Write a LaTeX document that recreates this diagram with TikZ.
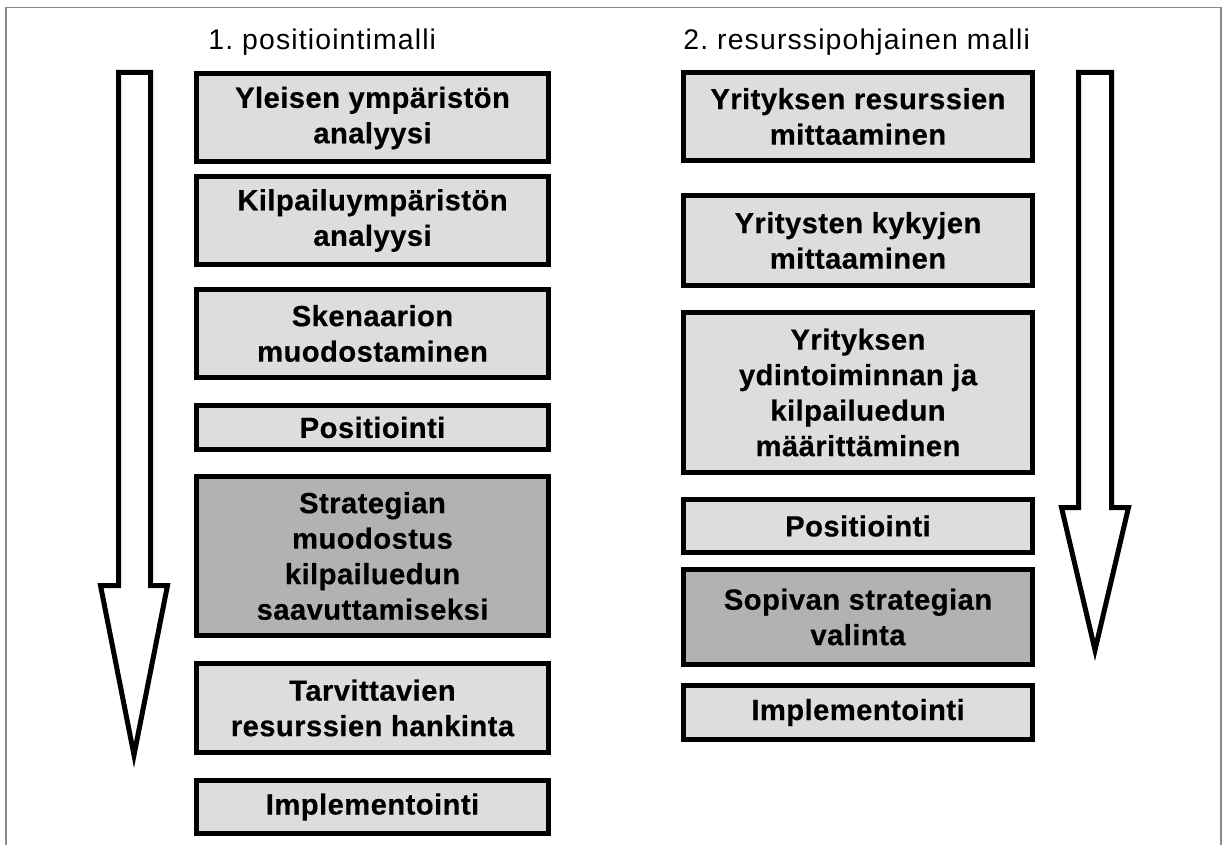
\documentclass[tikz,border=0pt]{standalone}
\usepackage{fontspec}
\setmainfont{Liberation Sans}[LetterSpace=1.5, BoldFeatures={FakeBold=0.4}]
\newfontfamily\headingfont{Liberation Sans}[LetterSpace=4]
\definecolor{boxlight}{HTML}{DDDDDD}
\definecolor{boxdark}{HTML}{B2B2B2}
\definecolor{framegray}{HTML}{8A8A8A}
\frenchspacing
\begin{document}
\begin{tikzpicture}[x=0.5pt,y=-0.5pt,
  stepbox/.style={draw=black, line width=2.5pt, fill=boxlight, inner sep=0pt,
    align=center, font=\bfseries\fontsize{14.6}{17.75}\selectfont},
  darkbox/.style={stepbox, fill=boxdark},
  bigarrow/.style={draw=black, line width=2.5pt, fill=white, miter limit=25},
  heading/.style={anchor=base west, inner sep=0pt,
    font=\headingfont\fontsize{14.2}{17}\selectfont},
  frameline/.style={draw=framegray, line width=0.8pt}]
\useasboundingbox (0,0) rectangle (1222,845);

% outer frame, open at the bottom
\draw[frameline] (6,845) -- (6,7.5) -- (1221,7.5) -- (1221,845);

% headings
\node[heading] (t1) at (208,50) {1. positiointimalli};
\node[heading] (t2) at (683,50) {2. resurssipohjainen malli};

% hollow arrows showing the direction of the process
\draw[bigarrow] (118.5,72.5) -- (150.5,72.5) -- (150.5,585.5) -- (167.5,585.5)
  -- (134,755) -- (100.5,585.5) -- (118.5,585.5) -- cycle;
\draw[bigarrow] (1078.5,72.5) -- (1111.5,72.5) -- (1111.5,507.5) -- (1128.5,507.5)
  -- (1095,650) -- (1061.5,507.5) -- (1078.5,507.5) -- cycle;

% 1. positioning model
\node[stepbox, minimum width=176pt, minimum height=44pt] (l1) at (372.5,118)
  {Yleisen ympäristön\\analyysi};
\node[stepbox, minimum width=176pt, minimum height=44pt] (l2) at (372.5,220.5)
  {Kilpailuympäristön\\analyysi};
\node[stepbox, minimum width=176pt, minimum height=44pt] (l3) at (372.5,333.5)
  {Skenaarion\\muodostaminen};
\node[stepbox, minimum width=176pt, minimum height=22pt] (l4) at (372.5,427.5)
  {Positiointi};
\node[darkbox, minimum width=176pt, minimum height=79.5pt] (l5) at (372.5,556)
  {Strategian\\muodostus\\kilpailuedun\\saavuttamiseksi};
\node[stepbox, minimum width=176pt, minimum height=44.5pt] (l6) at (372.5,708)
  {Tarvittavien\\resurssien hankinta};
\node[stepbox, minimum width=176pt, minimum height=26.5pt] (l7) at (372.5,807)
  {Implementointi};

% 2. resource-based model
\node[stepbox, minimum width=174.5pt, minimum height=44pt] (r1) at (858,116.5)
  {Yrityksen resurssien\\mittaaminen};
\node[stepbox, minimum width=174.5pt, minimum height=45pt] (r2) at (858,240.5)
  {Yritysten kykyjen\\mittaaminen};
\node[stepbox, minimum width=174.5pt, minimum height=80pt] (r3) at (858,392.5)
  {Yrityksen\\ydintoiminnan ja\\kilpailuedun\\määrittäminen};
\node[stepbox, minimum width=174.5pt, minimum height=26.5pt] (r4) at (858,526)
  {Positiointi};
\node[darkbox, minimum width=174.5pt, minimum height=47.5pt] (r5) at (858,617)
  {Sopivan strategian\\valinta};
\node[stepbox, minimum width=174.5pt, minimum height=27pt] (r6) at (858,712.5)
  {Implementointi};
\end{tikzpicture}
\end{document}
